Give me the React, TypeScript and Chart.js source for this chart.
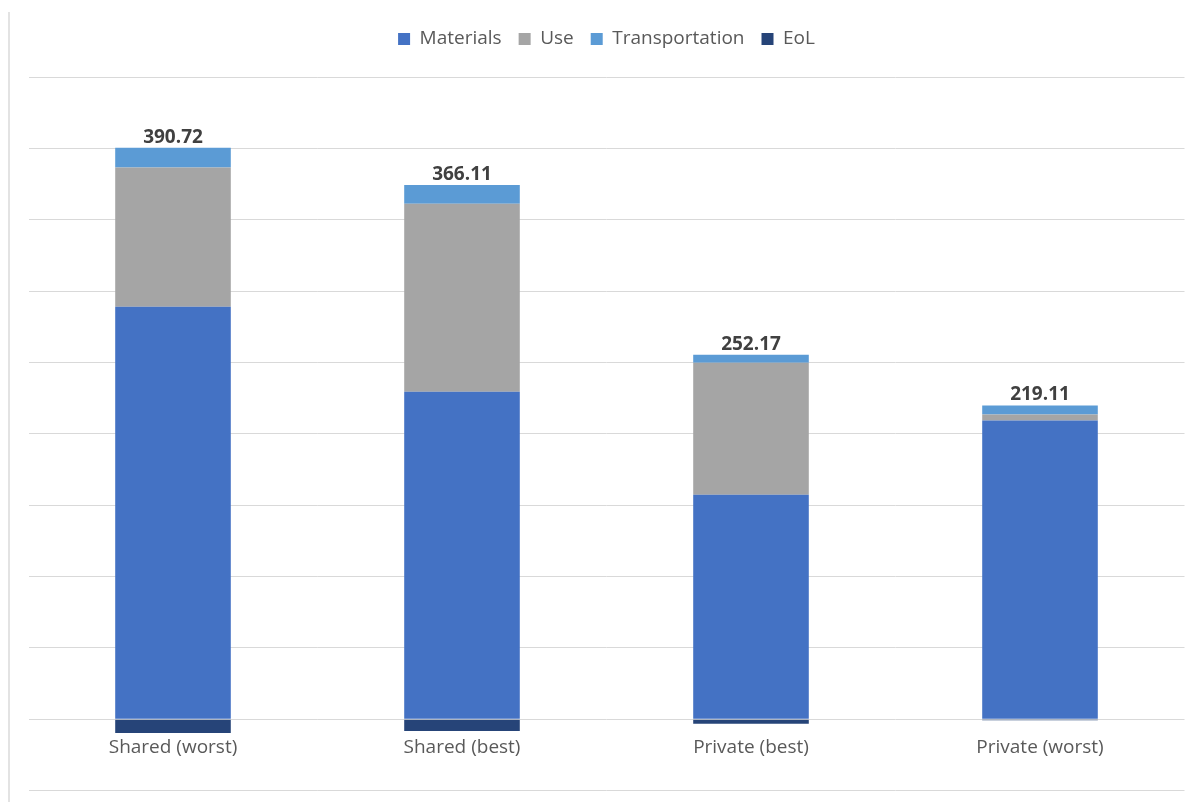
import React, { useEffect, useRef } from "react";
import { Chart, registerables } from "chart.js";

Chart.register(...registerables);

const categories = ["Shared (worst)", "Shared (best)", "Private (best)", "Private (worst)"];
const materials = [289.0, 229.5, 157.2, 209.3];
const use = [97.5, 131.6, 92.6, 4.2];
const transportation = [14.0, 13.3, 5.57, 6.3];
const eol = [-9.78, -8.29, -3.2, -0.69];

const yMin = -50;
const yMax = 450;
const yStep = 50;

const FONT = "'Open Sans', 'Liberation Sans', sans-serif";

const totalsPlugin = {
  id: "totals",
  afterDatasetsDraw(chart: any) {
    const ctx = chart.ctx;
    const y = chart.scales.y;
    const meta = chart.getDatasetMeta(0);
    ctx.save();
    ctx.font = `bold 19px ${FONT}`;
    ctx.fillStyle = "#404040";
    ctx.textAlign = "center";
    ctx.textBaseline = "bottom";
    categories.forEach((_, i) => {
      const pos = materials[i] + use[i] + transportation[i];
      const total = pos + eol[i];
      const x = meta.data[i].x;
      ctx.fillText(total.toFixed(2), x, y.getPixelForValue(pos) - 1);
    });
    ctx.restore();
  },
};

const framePlugin = {
  id: "frame",
  beforeDraw(chart: any) {
    const ctx = chart.ctx;
    ctx.save();
    ctx.fillStyle = "#E3E3E3";
    ctx.fillRect(8, 12, 2, chart.height - 12);
    ctx.restore();
  },
};

const legendSpacePlugin = {
  id: "legendSpace",
  afterInit(chart: any) {
    const lg = chart.legend;
    if (!lg) return;
    const orig = lg.fit.bind(lg);
    lg.fit = () => {
      orig();
      lg.height += 18.5;
    };
  },
};

export default function App() {
  const ref = useRef<HTMLCanvasElement | null>(null);
  useEffect(() => {
    if (!ref.current) return;
    const chart = new Chart(ref.current, {
      type: "bar",
      data: {
        labels: categories,
        datasets: [
          { label: "Materials", data: materials, backgroundColor: "#4472C4" },
          { label: "Use", data: use, backgroundColor: "#A5A5A5" },
          { label: "Transportation", data: transportation, backgroundColor: "#5B9BD5" },
          { label: "EoL", data: eol, backgroundColor: "#264478" },
        ],
      },
      options: {
        animation: false,
        responsive: false,
        maintainAspectRatio: false,
        layout: { padding: { left: 28.5, right: 7.5, top: 12.5, bottom: 11.5 } },
        datasets: { bar: { categoryPercentage: 1, barPercentage: 0.4, borderWidth: 0 } },
        scales: {
          x: {
            stacked: true,
            position: { y: 0 } as any,
            grid: { display: false, drawTicks: false },
            border: { display: false },
            ticks: { color: "#595959", font: { family: FONT, size: 19 }, padding: 17 },
          },
          y: {
            stacked: true,
            min: yMin,
            max: yMax,
            grid: { color: "#D9D9D9", lineWidth: 1, drawTicks: false },
            border: { display: false },
            ticks: { display: false, stepSize: yStep },
          },
        },
        plugins: {
          legend: {
            position: "top",
            labels: {
              color: "#595959",
              font: { family: FONT, size: 19 },
              boxWidth: 12,
              boxHeight: 12,
              padding: 17,
            },
          },
          tooltip: { enabled: false },
        },
      },
      plugins: [totalsPlugin, framePlugin, legendSpacePlugin],
    });
    return () => chart.destroy();
  }, []);
  return (
    <div style={{ position: "absolute", left: 0, top: 0, width: 1192, height: 802, background: "#fff" }}>
      <canvas ref={ref} width={1192} height={802} style={{ display: "block" }} />
    </div>
  );
}
